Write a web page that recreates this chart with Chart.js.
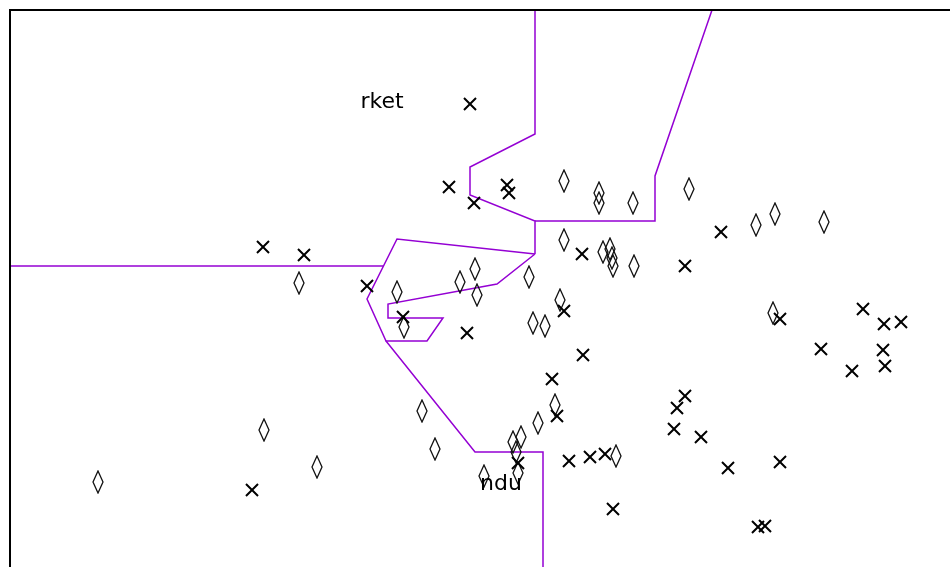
<!DOCTYPE html>
<html>
<head>
<meta charset="utf-8">
<script src="https://cdn.jsdelivr.net/npm/chart.js@4/dist/chart.umd.min.js"></script>
<style>
  html, body { margin: 0; padding: 0; background: #fff; overflow: hidden; }
  #wrap { width: 950px; height: 567px; }
</style>
</head>
<body>
<div id="wrap"><canvas id="grafico" width="950" height="567"></canvas></div>
<script>
// puntos clase "x"
const cruzX = [460, 439, 464, 497, 499, 253, 294, 357, 393, 457, 572, 675, 711, 554, 573, 542, 547, 508, 559, 580,
    595, 603, 675, 667, 664, 691, 718, 770, 748, 755, 770, 853, 874, 891, 811, 873, 875, 842, 242];
const cruzY = [463, 380, 364, 382, 374, 320, 312, 281, 250, 234, 313, 301, 335, 256, 212, 188, 151, 104, 106, 110,
    113, 58, 171, 159, 138, 130, 99, 105, 40, 41, 248, 258, 243, 245, 218, 217, 201, 196, 77];

// puntos clase "rombo"
const romboX = [554, 589, 589, 623, 679, 746, 765, 814, 554, 593, 600, 602, 603, 624, 465, 450, 467, 519, 387, 394,
    523, 535, 550, 289, 412, 425, 254, 307, 88, 545, 528, 511, 503, 506, 508, 474, 606, 763];
const romboY = [386, 374, 364, 364, 378, 342, 353, 345, 327, 315, 318, 309, 301, 301, 298, 285, 272, 290, 275, 240,
    244, 241, 267, 284, 156, 118, 137, 100, 85, 162, 144, 130, 125, 115, 94, 91, 111, 254];

// fronteras de decision
const frontera1X = [525, 525, 460, 460, 525, 525];
const frontera1Y = [557, 433, 400, 372, 346, 313];
const frontera2X = [525, 645, 645, 702];
const frontera2Y = [346, 346, 391, 557];
const frontera3X = [525, 387, 357, 376, 417, 433, 378, 378, 487, 525];
const frontera3Y = [313, 328, 268, 226, 226, 249, 249, 263, 283, 313];
const frontera4X = [0, 373];
const frontera4Y = [301, 301];
const frontera5X = [376, 465, 533, 533];
const frontera5Y = [226, 115, 115, -20];

// etiquetas
const etiquetaTexto = ['rket', 'ndu'];
const etiquetaX = [372, 491];
const etiquetaY = [465, 83];

function aPuntos(xs, ys) {
    return xs.map((x, i) => ({ x: x, y: ys[i] }));
}

// rombo alargado como imagen de punto
function crearRombo() {
    const c = document.createElement('canvas');
    c.width = 12;
    c.height = 24;
    const g = c.getContext('2d');
    g.strokeStyle = '#111';
    g.lineWidth = 1.3;
    g.beginPath();
    g.moveTo(6, 1);
    g.lineTo(11, 12);
    g.lineTo(6, 23);
    g.lineTo(1, 12);
    g.closePath();
    g.stroke();
    return c;
}

const morado = '#9400d3';
function linea(xs, ys) {
    return {
        type: 'line',
        data: aPuntos(xs, ys),
        borderColor: morado,
        borderWidth: 1.5,
        pointRadius: 0,
        fill: false,
        tension: 0
    };
}

const marco = {
    id: 'marco',
    afterDraw(chart) {
        const { ctx, chartArea } = chart;
        ctx.save();
        ctx.strokeStyle = '#000';
        ctx.lineWidth = 2;
        ctx.beginPath();
        ctx.moveTo(chartArea.left, chartArea.bottom + 5);
        ctx.lineTo(chartArea.left, chartArea.top);
        ctx.lineTo(chartArea.right + 5, chartArea.top);
        ctx.stroke();
        ctx.restore();
    }
};

const etiquetas = {
    id: 'etiquetas',
    afterDatasetsDraw(chart) {
        const { ctx, scales } = chart;
        ctx.save();
        ctx.fillStyle = '#000';
        ctx.font = '22px "DejaVu Sans"';
        ctx.textAlign = 'center';
        ctx.textBaseline = 'middle';
        etiquetaTexto.forEach((t, i) => {
            ctx.fillText(t, scales.x.getPixelForValue(etiquetaX[i]), scales.y.getPixelForValue(etiquetaY[i]));
        });
        ctx.restore();
    }
};

document.addEventListener('DOMContentLoaded', () => {
    const ctx = document.getElementById('grafico').getContext('2d');
    new Chart(ctx, {
        type: 'scatter',
        data: {
            datasets: [
                {
                    label: 'x',
                    data: aPuntos(cruzX, cruzY),
                    pointStyle: 'crossRot',
                    pointRadius: 8.5,
                    borderColor: '#000',
                    borderWidth: 2
                },
                {
                    label: 'rombo',
                    data: aPuntos(romboX, romboY),
                    pointStyle: crearRombo(),
                    pointRadius: 6
                },
                linea(frontera1X, frontera1Y),
                linea(frontera2X, frontera2Y),
                linea(frontera3X, frontera3Y),
                linea(frontera4X, frontera4Y),
                linea(frontera5X, frontera5Y)
            ]
        },
        options: {
            responsive: false,
            animation: false,
            devicePixelRatio: 1,
            layout: { autoPadding: false, padding: { left: 10, top: 10, right: 0, bottom: 0 } },
            plugins: {
                legend: { display: false },
                tooltip: { enabled: false }
            },
            scales: {
                x: { type: 'linear', min: 0, max: 940, display: false },
                y: { type: 'linear', min: 0, max: 557, display: false }
            }
        },
        plugins: [marco, etiquetas]
    });
});
</script>
</body>
</html>
